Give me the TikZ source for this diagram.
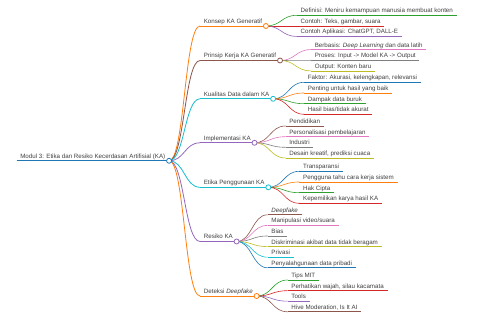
\documentclass[tikz,border=0pt]{standalone}
\usepackage{fontspec}
\setmainfont{Liberation Sans}
\usetikzlibrary{calc,positioning}
\definecolor{c0}{HTML}{1F77B4}
\definecolor{c1}{HTML}{FF7F0E}
\definecolor{c2}{HTML}{2CA02C}
\definecolor{c3}{HTML}{D62728}
\definecolor{c4}{HTML}{9467BD}
\definecolor{c5}{HTML}{8C564B}
\definecolor{c6}{HTML}{E377C2}
\definecolor{c7}{HTML}{7F7F7F}
\definecolor{c8}{HTML}{BCBD22}
\definecolor{c9}{HTML}{17BECF}
\begin{document}
\begin{tikzpicture}[
  x=1pt,y=-1pt,
  topic/.style={anchor=south west,inner xsep=3.6pt,inner ysep=2.3pt,text height=4.6pt,text depth=0pt,
    font=\fontsize{6.2}{7}\selectfont,text=black!75},
  lvl0/.style={topic,append after command={(\tikzlastnode.south west) edge[draw=#1,line width=1pt] (\tikzlastnode.south east)}},
  lvl1/.style={topic,append after command={(\tikzlastnode.south west) edge[draw=#1,line width=.8pt] (\tikzlastnode.south east)}},
  lvl2/.style={topic,append after command={(\tikzlastnode.south west) edge[draw=#1,line width=.6pt] (\tikzlastnode.south east)}},
  link/.style={draw=#1,line width=.6pt,
    to path={let \p1=(\tikztostart),\p2=(\tikztotarget) in
      .. controls ({(\x1+\x2)/2},\y1) and ({(\x1+\x2)/2},\y2) .. (\tikztotarget)}},
  dot/.style={draw=#1,fill=white,line width=.8pt}
]
  \fill[white] (0,0) rectangle (480,320);
  \useasboundingbox (0,0) rectangle (480,320);

  \node[lvl0=c0] (root) at (16.5,160.8) {Modul 3: Etika dan Resiko Kecerdasan Artifisial (KA)};
  \coordinate (root-x) at ([xshift=31pt]root.south east);

  \node[lvl1=c1] (konsep) at (root-x |- 0,26) {Konsep KA Generatif};
  \node[lvl1=c5] (prinsip) at (root-x |- 0,60.5) {Prinsip Kerja KA Generatif};
  \node[lvl1=c9] (kualitas) at (root-x |- 0,98.8) {Kualitas Data dalam KA};
  \node[lvl1=c4] (impl) at (root-x |- 0,142.8) {Implementasi KA};
  \node[lvl1=c9] (etika) at (root-x |- 0,187.3) {Etika Penggunaan KA};
  \node[lvl1=c4] (resiko) at (root-x |- 0,241.5) {Resiko KA};
  \node[lvl1=c1] (deteksi) at (root-x |- 0,296) {Deteksi \textit{Deepfake}};

  \foreach \n in {konsep,prinsip,kualitas,impl,etika,resiko,deteksi}
    \coordinate (\n-x) at ([xshift=31pt]\n.south east);

  \node[lvl2=c2] (definisi) at (konsep-x |- 0,15.3) {Definisi: Meniru kemampuan manusia membuat konten};
  \node[lvl2=c3] (contoh) at (konsep-x |- 0,26) {Contoh: Teks, gambar, suara};
  \node[lvl2=c4] (aplikasi) at (konsep-x |- 0,36.4) {Contoh Aplikasi: ChatGPT, DALL-E};

  \node[lvl2=c6] (berbasis) at (prinsip-x |- 0,49.6) {Berbasis: \textit{Deep Learning} dan data latih};
  \node[lvl2=c7] (proses) at (prinsip-x |- 0,60.3) {Proses: Input -> Model KA -> Output};
  \node[lvl2=c8] (output) at (prinsip-x |- 0,70.9) {Output: Konten baru};

  \node[lvl2=c0] (faktor) at (kualitas-x |- 0,82.3) {Faktor: Akurasi, kelengkapan, relevansi};
  \node[lvl2=c1] (penting) at (kualitas-x |- 0,93) {Penting untuk hasil yang baik};
  \node[lvl2=c2] (dampak) at (kualitas-x |- 0,103.7) {Dampak data buruk};
  \node[lvl2=c3] (hasil) at (kualitas-x |- 0,114.3) {Hasil bias/tidak akurat};

  \node[lvl2=c5] (pendidikan) at (impl-x |- 0,126) {Pendidikan};
  \node[lvl2=c6] (personal) at (impl-x |- 0,136.7) {Personalisasi pembelajaran};
  \node[lvl2=c7] (industri) at (impl-x |- 0,147.3) {Industri};
  \node[lvl2=c8] (desain) at (impl-x |- 0,158) {Desain kreatif, prediksi cuaca};

  \node[lvl2=c0] (transparansi) at (etika-x |- 0,171.3) {Transparansi};
  \node[lvl2=c1] (pengguna) at (etika-x |- 0,182) {Pengguna tahu cara kerja sistem};
  \node[lvl2=c2] (hakcipta) at (etika-x |- 0,192.7) {Hak Cipta};
  \node[lvl2=c3] (kepemilikan) at (etika-x |- 0,203.3) {Kepemilikan karya hasil KA};

  \node[lvl2=c5] (deepfake) at (resiko-x |- 0,214.8) {\textit{Deepfake}};
  \node[lvl2=c6] (manipulasi) at (resiko-x |- 0,225.4) {Manipulasi video/suara};
  \node[lvl2=c7] (bias) at (resiko-x |- 0,236) {Bias};
  \node[lvl2=c8] (diskriminasi) at (resiko-x |- 0,246.6) {Diskriminasi akibat data tidak beragam};
  \node[lvl2=c9] (privasi) at (resiko-x |- 0,257.2) {Privasi};
  \node[lvl2=c0] (penyalahgunaan) at (resiko-x |- 0,267.8) {Penyalahgunaan data pribadi};

  \node[lvl2=c2] (tips) at (deteksi-x |- 0,280) {Tips MIT};
  \node[lvl2=c3] (perhatikan) at (deteksi-x |- 0,290.7) {Perhatikan wajah, silau kacamata};
  \node[lvl2=c4] (tools) at (deteksi-x |- 0,301.2) {Tools};
  \node[lvl2=c5] (hive) at (deteksi-x |- 0,311.8) {Hive Moderation, Is It AI};

  \foreach \a/\b/\c in {root/konsep/c1,root/prinsip/c5,root/kualitas/c9,root/impl/c4,
      root/etika/c9,root/resiko/c4,root/deteksi/c1}
    \draw[link=\c,line width=.8pt] (\a.south east) to (\b.south west);

  \foreach \a/\b/\c in {konsep/definisi/c2,konsep/contoh/c3,konsep/aplikasi/c4,
      prinsip/berbasis/c6,prinsip/proses/c7,prinsip/output/c8,
      kualitas/faktor/c0,kualitas/penting/c1,kualitas/dampak/c2,kualitas/hasil/c3,
      impl/pendidikan/c5,impl/personal/c6,impl/industri/c7,impl/desain/c8,
      etika/transparansi/c0,etika/pengguna/c1,etika/hakcipta/c2,etika/kepemilikan/c3,
      resiko/deepfake/c5,resiko/manipulasi/c6,resiko/bias/c7,resiko/diskriminasi/c8,
      resiko/privasi/c9,resiko/penyalahgunaan/c0,
      deteksi/tips/c2,deteksi/perhatikan/c3,deteksi/tools/c4,deteksi/hive/c5}
    \draw[link=\c] (\a.south east) to (\b.south west);

  \foreach \n/\c in {root/c0,konsep/c1,prinsip/c5,kualitas/c9,impl/c4,etika/c9,resiko/c4,deteksi/c1}
    \draw[dot=\c] (\n.south east) circle (2.5pt);
\end{tikzpicture}
\end{document}
